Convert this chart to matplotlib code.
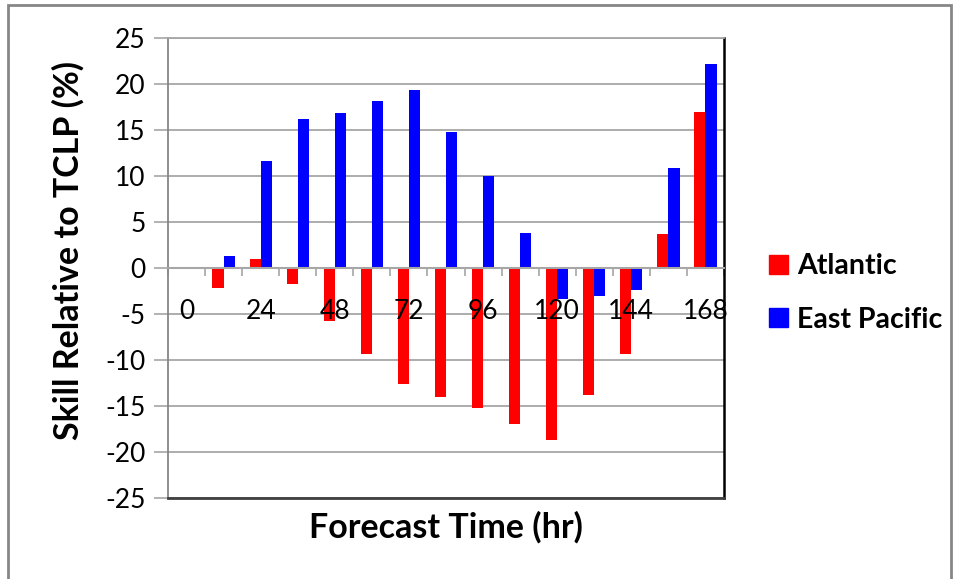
import matplotlib
matplotlib.use("Agg")
import numpy as np
from matplotlib import pyplot as plt
from matplotlib.patches import Patch, Rectangle

plt.rcParams['font.family'] = ['Lato', 'DejaVu Sans']

# forecast hours (one category every 12 h)
hours = [0, 12, 24, 36, 48, 60, 72, 84, 96, 108, 120, 132, 144, 156, 168]
atlantic = [0, -2.2, 1.0, -1.7, -5.8, -9.4, -12.6, -14.0, -15.2, -17.0, -18.7, -13.8, -9.3, 3.7, 17.0]
east_pacific = [0, 1.3, 11.6, 16.2, 16.9, 18.1, 19.4, 14.8, 10.0, 3.8, -3.4, -3.0, -2.4, 10.9, 22.2]
yticks = [25, 20, 15, 10, 5, 0, -5, -10, -15, -20, -25]

W, H = 961, 579
fig = plt.figure(figsize=(W / 100, H / 100), dpi=100)
ax = fig.add_axes([168 / W, 1 - 498 / H, (724 - 168) / W, (498 - 38) / H])

x = np.arange(len(hours))
bw = 0.3
ax.bar(x - bw / 2, atlantic, bw, color='#ff0000', linewidth=0, zorder=1)
ax.bar(x + bw / 2, east_pacific, bw, color='#0000ff', linewidth=0, zorder=1)

ax.set_xlim(-0.5, len(hours) - 0.5)
ax.set_ylim(-25, 25)

# gridlines behind the bars, tick labels on top of them
for v in yticks:
    ax.axhline(v, color='#a6a6a6', linewidth=1.3, zorder=0)
ax.set_yticks(yticks)
ax.set_yticklabels([str(v) for v in yticks], fontsize=19)
ax.tick_params(axis='y', direction='out', length=10, width=1.2, color='#a6a6a6', pad=6)

# category axis sits at y=0
ax.spines['bottom'].set_position(('data', 0))
ax.spines['bottom'].set_color('#a6a6a6')
ax.spines['bottom'].set_linewidth(1.5)
ax.set_xticks(x[::2])
ax.set_xticklabels([str(h) for h in hours[::2]], fontsize=19)
ax.set_xticks(np.arange(len(hours) + 1) - 0.5, minor=True)
ax.tick_params(axis='x', which='major', length=0, pad=22)
ax.tick_params(axis='x', which='minor', direction='out', length=6, width=1.2, color='#a6a6a6')
ax.axhline(-25, color='#404040', linewidth=2, clip_on=False, zorder=4)

ax.spines['left'].set_color('#868686')
ax.spines['left'].set_linewidth(1.3)
ax.spines['right'].set_color('black')
ax.spines['right'].set_linewidth(1.8)
ax.spines['top'].set_color('#a6a6a6')
ax.spines['top'].set_linewidth(1.3)

fig.text(446 / W, 1 - 527 / H, 'Forecast Time (hr)', ha='center', va='center',
         fontsize=24.5, fontweight='bold')
fig.text(68 / W, 1 - 251 / H, 'Skill Relative to TCLP (%)', ha='center', va='center',
         rotation=90, fontsize=24.5, fontweight='bold')

handles = [Patch(color='#ff0000', label='Atlantic'), Patch(color='#0000ff', label='East Pacific')]
fig.legend(handles=handles, loc='center left', bbox_to_anchor=(769 / W, 1 - 293 / H),
           frameon=False, prop={'size': 20.5, 'weight': 'bold'},
           handlelength=0.65, handleheight=0.65, handletextpad=0.35, labelspacing=0.95,
           borderpad=0, borderaxespad=0)

fig.patches.append(Rectangle((8 / W, -0.05), (951 - 8) / W, 1.05 - 5 / H,
                             transform=fig.transFigure, fill=False,
                             edgecolor='#868686', linewidth=2))

fig.savefig('out.png', dpi=100)
